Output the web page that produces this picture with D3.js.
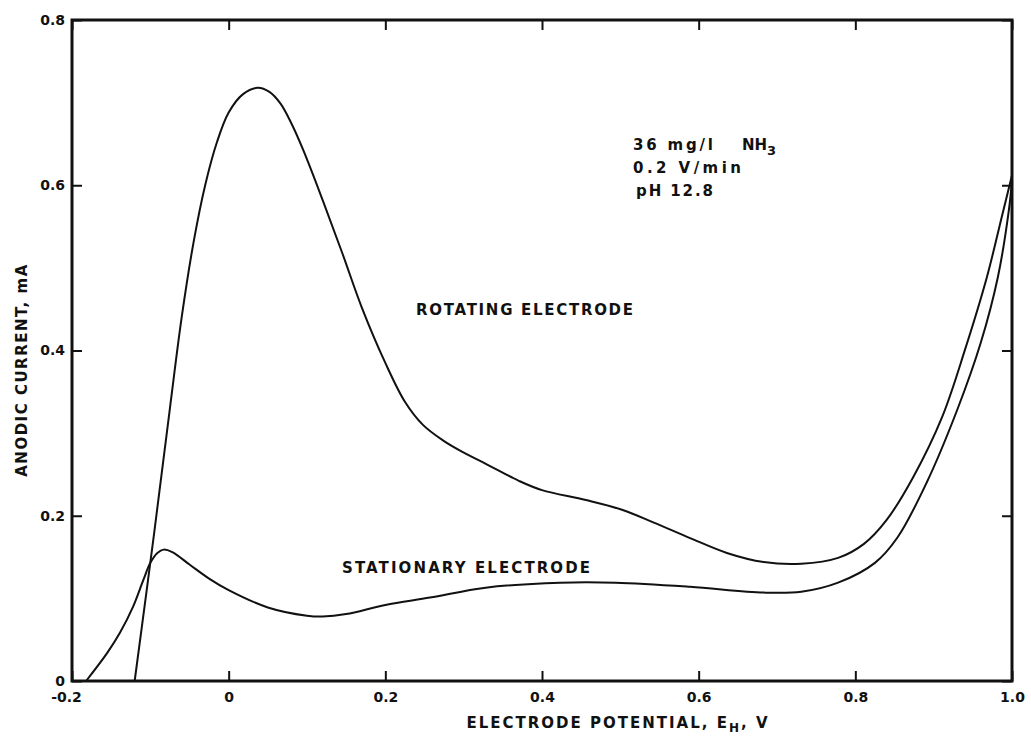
<!DOCTYPE html>
<html>
<head>
<meta charset="utf-8">
<script src="https://cdn.jsdelivr.net/npm/d3@7"></script>
<style>
  body { margin: 0; background: #fff; }
  svg text { font-family: "DejaVu Sans", sans-serif; fill: #111; font-weight: bold; }
</style>
</head>
<body>
<svg id="chart" width="1031" height="747"></svg>
<script>
// values (potential in V, current in mA)
const rotatingE = [-0.12, -0.095, -0.075, -0.06, -0.045, -0.03, -0.015, 0, 0.018, 0.037, 0.052, 0.066, 0.08, 0.095, 0.12, 0.145, 0.17, 0.2, 0.225, 0.248, 0.274, 0.299, 0.33, 0.371, 0.4, 0.456, 0.503, 0.542, 0.589, 0.636, 0.683, 0.731, 0.778, 0.811, 0.84, 0.874, 0.911, 0.94, 0.968, 0.987, 1.0];
const rotatingI = [0, 0.18, 0.33, 0.44, 0.53, 0.6, 0.652, 0.688, 0.71, 0.718, 0.713, 0.699, 0.675, 0.643, 0.582, 0.518, 0.452, 0.385, 0.338, 0.31, 0.291, 0.277, 0.262, 0.242, 0.231, 0.219, 0.207, 0.192, 0.173, 0.155, 0.144, 0.142, 0.149, 0.166, 0.195, 0.247, 0.32, 0.401, 0.489, 0.562, 0.612];

const stationaryE = [-0.182, -0.155, -0.139, -0.122, -0.109, -0.1, -0.091, -0.083, -0.072, -0.05, -0.025, 0, 0.05, 0.1, 0.12, 0.15, 0.2, 0.257, 0.328, 0.423, 0.494, 0.589, 0.683, 0.731, 0.778, 0.825, 0.854, 0.891, 0.93, 0.96, 0.982, 0.996, 1.0];
const stationaryI = [0, 0.034, 0.058, 0.09, 0.122, 0.143, 0.155, 0.159, 0.156, 0.141, 0.124, 0.11, 0.089, 0.079, 0.078, 0.081, 0.092, 0.101, 0.113, 0.119, 0.119, 0.114, 0.107, 0.108, 0.119, 0.143, 0.174, 0.24, 0.328, 0.409, 0.489, 0.57, 0.606];

const xTicks = [-0.2, 0, 0.2, 0.4, 0.6, 0.8, 1.0];
const yTicks = [0, 0.2, 0.4, 0.6, 0.8];

const svg = d3.select("#chart");
const pL = 72, pR = 1012, pT = 20, pB = 681;

const x = d3.scaleLinear().domain([-0.2, 1.0]).range([pL, pR]);
const y = d3.scaleLinear().domain([0, 0.8]).range([pB, pT]);

const fmt = d => d === 0 ? "0" : d3.format(".1f")(d).replace("\u2212", "-");

// bottom axis with labels
const gx = svg.append("g")
  .attr("transform", "translate(0," + pB + ")")
  .call(d3.axisBottom(x).tickValues(xTicks).tickFormat(fmt)
    .tickSizeInner(-10).tickSizeOuter(0).tickPadding(11));
// left axis with labels
const gy = svg.append("g")
  .attr("transform", "translate(" + pL + ",0)")
  .call(d3.axisLeft(y).tickValues(yTicks).tickFormat(fmt)
    .tickSizeInner(-10).tickSizeOuter(0).tickPadding(7));
// top and right, ticks only
const gt = svg.append("g")
  .attr("transform", "translate(0," + pT + ")")
  .call(d3.axisTop(x).tickValues(xTicks).tickFormat("")
    .tickSizeInner(-10).tickSizeOuter(0));
const gr = svg.append("g")
  .attr("transform", "translate(" + pR + ",0)")
  .call(d3.axisRight(y).tickValues(yTicks).tickFormat("")
    .tickSizeInner(-10).tickSizeOuter(0));

[gx, gy, gt, gr].forEach(g => {
  g.select(".domain").remove();
  g.selectAll(".tick line").attr("stroke", "#111").attr("stroke-width", 2);
  g.selectAll("text").attr("font-size", 14).attr("fill", "#111")
    .attr("font-family", "DejaVu Sans").attr("font-weight", "bold");
});
gx.selectAll(".tick").filter(d => d === -0.2).select("text").attr("dx", -6);

// frame
svg.append("rect")
  .attr("x", pL).attr("y", pT)
  .attr("width", pR - pL).attr("height", pB - pT)
  .attr("fill", "none").attr("stroke", "#111").attr("stroke-width", 3);

// curves
const line = d3.line()
  .x(d => x(d[0])).y(d => y(d[1]))
  .curve(d3.curveCatmullRom.alpha(0.5));

svg.append("path")
  .datum(d3.zip(rotatingE, rotatingI))
  .attr("d", line)
  .attr("fill", "none").attr("stroke", "#111").attr("stroke-width", 2);

svg.append("path")
  .datum(d3.zip(stationaryE, stationaryI))
  .attr("d", line)
  .attr("fill", "none").attr("stroke", "#111").attr("stroke-width", 2);

// curve labels
svg.append("text")
  .attr("x", 416).attr("y", 315)
  .attr("font-size", 15)
  .attr("textLength", 217).attr("lengthAdjust", "spacing")
  .text("ROTATING ELECTRODE");

svg.append("text")
  .attr("x", 342).attr("y", 573)
  .attr("font-size", 15)
  .attr("textLength", 248).attr("lengthAdjust", "spacing")
  .text("STATIONARY ELECTRODE");

// conditions
const nt = svg.append("g").attr("font-size", 15);
nt.append("text").attr("x", 633).attr("y", 150)
  .attr("textLength", 80).attr("lengthAdjust", "spacing").text("36 mg/l");
const nh = nt.append("text").attr("x", 742).attr("y", 150);
nh.append("tspan").text("NH");
nh.append("tspan").attr("dy", 5).attr("font-size", 13).text("3");
nt.append("text").attr("x", 633).attr("y", 173)
  .attr("textLength", 108).attr("lengthAdjust", "spacing").text("0.2 V/min");
nt.append("text").attr("x", 636).attr("y", 196)
  .attr("textLength", 77).attr("lengthAdjust", "spacing").text("pH 12.8");

// axis titles
const xt = svg.append("text")
  .attr("x", 618).attr("y", 728)
  .attr("text-anchor", "middle")
  .attr("font-size", 15)
  .attr("letter-spacing", 2);
xt.append("tspan").text("ELECTRODE  POTENTIAL, E");
xt.append("tspan").attr("dy", 4).attr("font-size", 12).text("H");
xt.append("tspan").attr("dy", -4).text(", V");

svg.append("text")
  .attr("transform", "translate(27,370) rotate(-90)")
  .attr("text-anchor", "middle")
  .attr("font-size", 15)
  .attr("letter-spacing", 1.5)
  .text("ANODIC  CURRENT,  mA");
</script>
</body>
</html>
